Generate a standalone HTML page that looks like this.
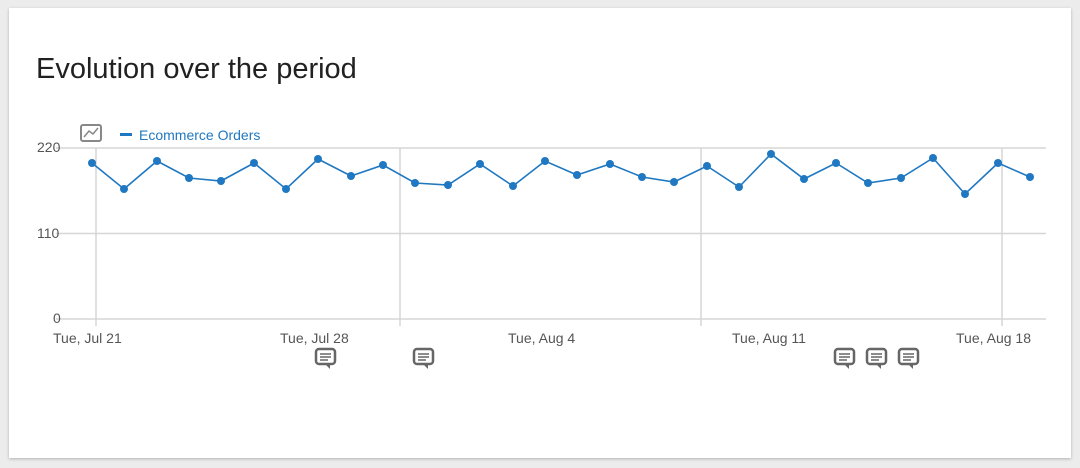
<!DOCTYPE html>
<html><head><style>
body{margin:0;background:#ececec;width:1080px;height:468px;overflow:hidden;font-family:"Liberation Sans",sans-serif}
.card{position:absolute;left:9px;top:8px;width:1062px;height:450px;background:#fff;box-shadow:0 1px 3px rgba(0,0,0,.25)}
h1{position:absolute;left:27px;top:45px;margin:0;font-weight:400;font-size:29px;color:#212121}
</style></head><body>
<div class="card"><h1>Evolution over the period</h1></div>
<svg width="1080" height="468" style="position:absolute;left:0;top:0" font-family="Liberation Sans, sans-serif">
<g stroke="#d6d6d6" stroke-width="1.5">
<line x1="56" y1="148" x2="1046" y2="148"/><line x1="56" y1="233.5" x2="1046" y2="233.5"/><line x1="56" y1="319" x2="1046" y2="319"/>
<line x1="96" y1="148" x2="96" y2="326"/><line x1="400" y1="148" x2="400" y2="326"/><line x1="701" y1="148" x2="701" y2="326"/><line x1="1002" y1="148" x2="1002" y2="326"/>
</g>
<g fill="#555" font-size="14"><text x="37" y="152">220</text><text x="37" y="238">110</text><text x="53" y="323">0</text>
<text x="53" y="343">Tue, Jul 21</text><text x="280" y="343">Tue, Jul 28</text><text x="508" y="343">Tue, Aug 4</text><text x="732" y="343">Tue, Aug 11</text><text x="956" y="343">Tue, Aug 18</text></g>
<rect x="81" y="125" width="20" height="16" rx="2" fill="none" stroke="#888" stroke-width="2"/>
<polyline points="84,137 89,131 93,134 98,128" fill="none" stroke="#888" stroke-width="1.5"/>
<rect x="120" y="133" width="12" height="3" fill="#1f78c1"/>
<text x="139" y="140" fill="#1f78c1" font-size="14">Ecommerce Orders</text>
<polyline id="l" fill="none" stroke="#1f78c1" stroke-width="1.6" points="92,163 124,189 157,161 189,178 221,181 254,163 286,189 318,159 351,176 383,165 415,183 448,185 480,164 513,186 545,161 577,175 610,164 642,177 674,182 707,166 739,187 771,154 804,179 836,163 868,183 901,178 933,158 965,194 998,163 1030,177"/>
<g fill="#1f78c1">
<circle cx="92" cy="163" r="4"/><circle cx="124" cy="189" r="4"/><circle cx="157" cy="161" r="4"/><circle cx="189" cy="178" r="4"/><circle cx="221" cy="181" r="4"/><circle cx="254" cy="163" r="4"/><circle cx="286" cy="189" r="4"/><circle cx="318" cy="159" r="4"/><circle cx="351" cy="176" r="4"/><circle cx="383" cy="165" r="4"/><circle cx="415" cy="183" r="4"/><circle cx="448" cy="185" r="4"/><circle cx="480" cy="164" r="4"/><circle cx="513" cy="186" r="4"/><circle cx="545" cy="161" r="4"/><circle cx="577" cy="175" r="4"/><circle cx="610" cy="164" r="4"/><circle cx="642" cy="177" r="4"/><circle cx="674" cy="182" r="4"/><circle cx="707" cy="166" r="4"/><circle cx="739" cy="187" r="4"/><circle cx="771" cy="154" r="4"/><circle cx="804" cy="179" r="4"/><circle cx="836" cy="163" r="4"/><circle cx="868" cy="183" r="4"/><circle cx="901" cy="178" r="4"/><circle cx="933" cy="158" r="4"/><circle cx="965" cy="194" r="4"/><circle cx="998" cy="163" r="4"/><circle cx="1030" cy="177" r="4"/>
</g>
<defs><g id="c"><rect x="0" y="0" width="19" height="15" rx="3" fill="#fff" stroke="#666" stroke-width="2.5"/><path d="M9 15 L14 20 L14 15Z" fill="#666"/><line x1="4" y1="5" x2="15" y2="5" stroke="#666" stroke-width="1.5"/><line x1="4" y1="8" x2="15" y2="8" stroke="#666" stroke-width="1.5"/><line x1="4" y1="11" x2="12" y2="11" stroke="#666" stroke-width="1.5"/></g></defs>
<use href="#c" x="316" y="349"/><use href="#c" x="414" y="349"/><use href="#c" x="835" y="349"/><use href="#c" x="867" y="349"/><use href="#c" x="899" y="349"/>
</svg>
</body></html>
